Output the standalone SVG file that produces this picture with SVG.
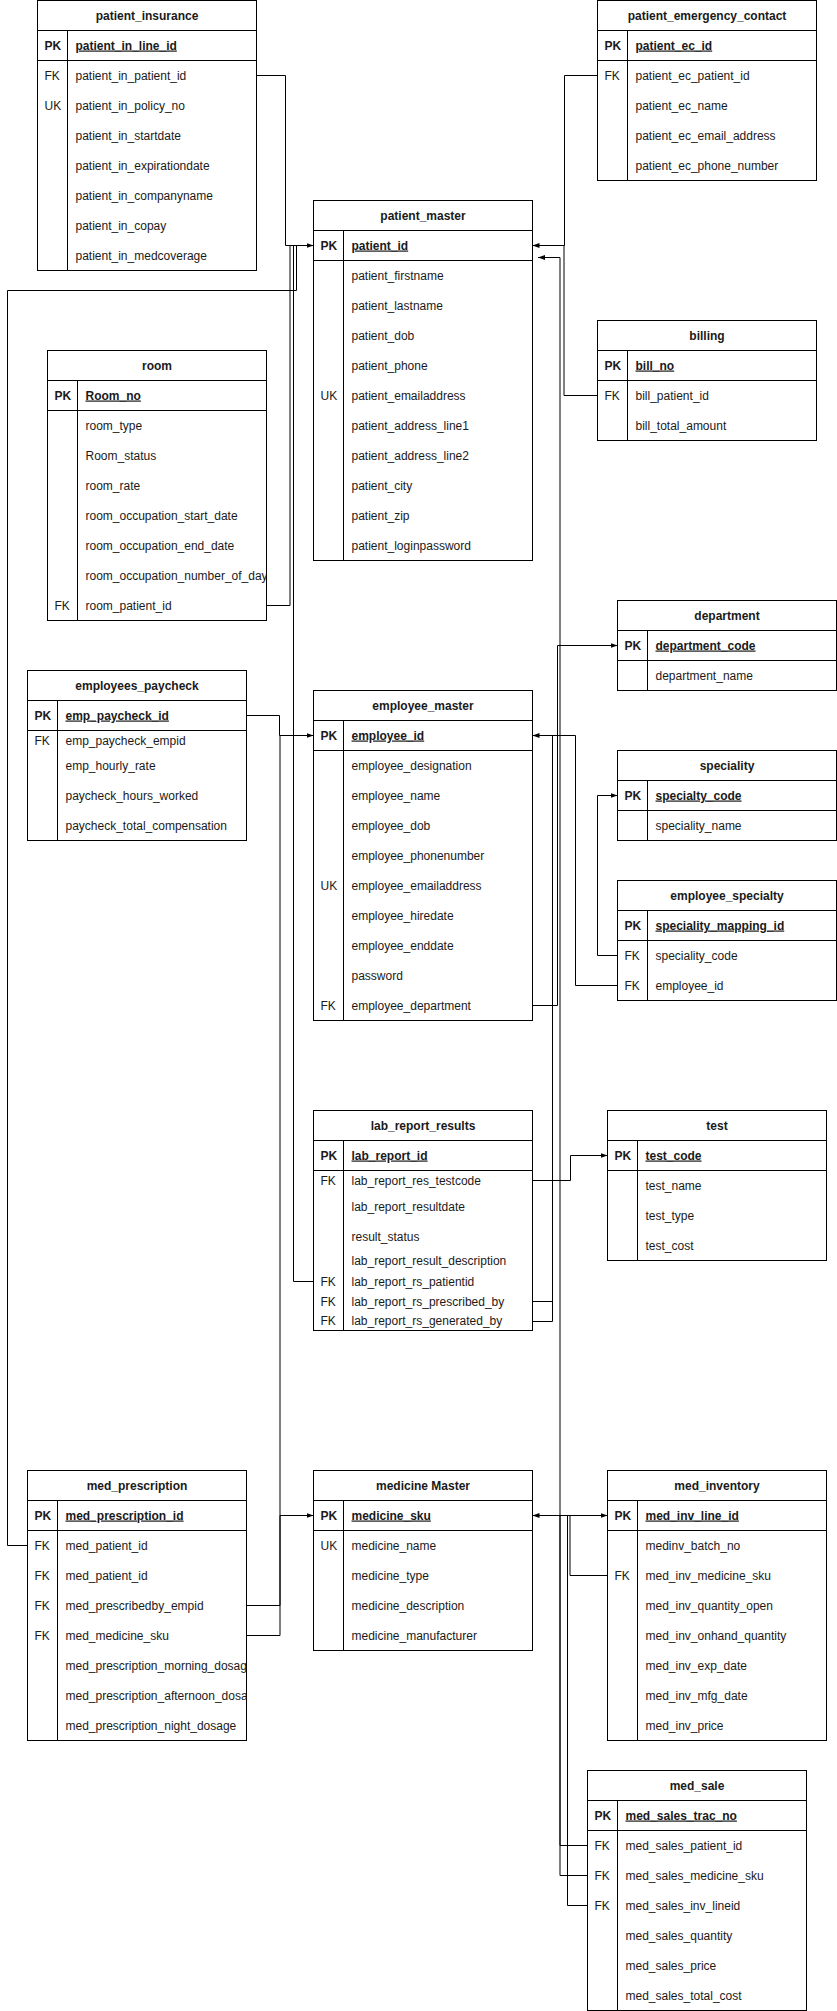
<svg xmlns="http://www.w3.org/2000/svg" width="837" height="2011" viewBox="0 0 837 2011">
<style>
.box{fill:#fff;stroke:#000;stroke-width:1}
.ln{fill:none;stroke:#000;stroke-width:1}
.t{font-family:"Liberation Sans",Arial,Helvetica,sans-serif;font-size:12px;fill:#1a1a1a}
.h{font-weight:bold;text-anchor:middle}
.b{font-weight:bold}
.pk{font-weight:bold;text-decoration:underline}
.c{fill:none;stroke:#000;stroke-width:1}
.g{fill:none;stroke:#000;stroke-width:1}
</style>
<defs>
<marker id="arr" markerUnits="userSpaceOnUse" markerWidth="8" markerHeight="6" refX="7" refY="2.5" orient="auto">
<path d="M0,0L7,2.5L0,5z" fill="#000"/>
</marker>
<clipPath id="clipRx"><rect x="47.5" y="350" width="219" height="271"/></clipPath>
<clipPath id="clipMp"><rect x="27.5" y="1470" width="219" height="271"/></clipPath>
</defs>
<rect width="837" height="2011" fill="#fff"/>

<g id="connectors">
<path class="c" d="M256.5,75.5H285.5V245.5H313.5" marker-end="url(#arr)"/>
<path class="g" d="M266.5,605.5H290V245.5H313.5"/>
<path class="c" d="M27.5,1545.5H7.5V290.5H296.5V245.5H313.5"/>
<path class="c" d="M313.5,1281.5H293.5V245.5H313.5"/>
<path class="c" d="M597.5,75.5H564.5V245.5H532.5" marker-end="url(#arr)"/>
<path class="g" d="M597.5,395.5H564V245.5H540"/>
<path class="g" d="M587.5,1845.5H560V257.5H538" marker-end="url(#arr)"/>
<path class="c" d="M246.5,715.5H279.5V735.5H313.5" marker-end="url(#arr)"/>
<path class="g" d="M246.5,1605.5H280V735.5H300"/>
<path class="g" d="M246.5,1635.5H280V1515.5H313.5" marker-end="url(#arr)"/>
<path class="c" d="M617.5,985.5H575.5V735.5H532.5" marker-end="url(#arr)"/>
<path class="c" d="M532.5,1301.5H552.5V735.5H540"/>
<path class="c" d="M532.5,1321.5H552.5V1300"/>
<path class="c" d="M532.5,1005.5H557.5V645.5H617.5" marker-end="url(#arr)"/>
<path class="c" d="M617.5,955.5H597.5V795.5H617.5" marker-end="url(#arr)"/>
<path class="c" d="M532.5,1180.5H570.5V1155.5H607.5" marker-end="url(#arr)"/>
<path class="g" d="M607.5,1575.5H570V1515.5H532.5" marker-end="url(#arr)"/>
<path class="c" d="M587.5,1905.5H567.5V1515.5H607.5" marker-end="url(#arr)"/>
<path class="g" d="M587.5,1875.5H560V1515.5H545"/>
</g>

<g id="patient_insurance">
<rect class="box" x="37.5" y="0.5" width="219" height="270"/>
<path class="ln" d="M37.5,30.5H256.5M37.5,60.5H256.5M67.5,30.5V270.5"/>
<text class="t h" x="147" y="19.5">patient_insurance</text>
<text class="t b" x="44.5" y="49.5">PK</text>
<text class="t pk" x="75.5" y="49.5">patient_in_line_id</text>
<text class="t" x="44.5" y="79.5">FK</text>
<text class="t" x="75.5" y="79.5">patient_in_patient_id</text>
<text class="t" x="44.5" y="109.5">UK</text>
<text class="t" x="75.5" y="109.5">patient_in_policy_no</text>
<text class="t" x="75.5" y="139.5">patient_in_startdate</text>
<text class="t" x="75.5" y="169.5">patient_in_expirationdate</text>
<text class="t" x="75.5" y="199.5">patient_in_companyname</text>
<text class="t" x="75.5" y="229.5">patient_in_copay</text>
<text class="t" x="75.5" y="259.5">patient_in_medcoverage</text>
</g>

<g id="patient_emergency_contact">
<rect class="box" x="597.5" y="0.5" width="219" height="180"/>
<path class="ln" d="M597.5,30.5H816.5M597.5,60.5H816.5M627.5,30.5V180.5"/>
<text class="t h" x="707" y="19.5">patient_emergency_contact</text>
<text class="t b" x="604.5" y="49.5">PK</text>
<text class="t pk" x="635.5" y="49.5">patient_ec_id</text>
<text class="t" x="604.5" y="79.5">FK</text>
<text class="t" x="635.5" y="79.5">patient_ec_patient_id</text>
<text class="t" x="635.5" y="109.5">patient_ec_name</text>
<text class="t" x="635.5" y="139.5">patient_ec_email_address</text>
<text class="t" x="635.5" y="169.5">patient_ec_phone_number</text>
</g>

<g id="patient_master">
<rect class="box" x="313.5" y="200.5" width="219" height="360"/>
<path class="ln" d="M313.5,230.5H532.5M313.5,260.5H532.5M343.5,230.5V560.5"/>
<text class="t h" x="423" y="219.5">patient_master</text>
<text class="t b" x="320.5" y="249.5">PK</text>
<text class="t pk" x="351.5" y="249.5">patient_id</text>
<text class="t" x="351.5" y="279.5">patient_firstname</text>
<text class="t" x="351.5" y="309.5">patient_lastname</text>
<text class="t" x="351.5" y="339.5">patient_dob</text>
<text class="t" x="351.5" y="369.5">patient_phone</text>
<text class="t" x="320.5" y="399.5">UK</text>
<text class="t" x="351.5" y="399.5">patient_emailaddress</text>
<text class="t" x="351.5" y="429.5">patient_address_line1</text>
<text class="t" x="351.5" y="459.5">patient_address_line2</text>
<text class="t" x="351.5" y="489.5">patient_city</text>
<text class="t" x="351.5" y="519.5">patient_zip</text>
<text class="t" x="351.5" y="549.5">patient_loginpassword</text>
</g>

<g id="billing">
<rect class="box" x="597.5" y="320.5" width="219" height="120"/>
<path class="ln" d="M597.5,350.5H816.5M597.5,380.5H816.5M627.5,350.5V440.5"/>
<text class="t h" x="707" y="339.5">billing</text>
<text class="t b" x="604.5" y="369.5">PK</text>
<text class="t pk" x="635.5" y="369.5">bill_no</text>
<text class="t" x="604.5" y="399.5">FK</text>
<text class="t" x="635.5" y="399.5">bill_patient_id</text>
<text class="t" x="635.5" y="429.5">bill_total_amount</text>
</g>

<g id="room">
<rect class="box" x="47.5" y="350.5" width="219" height="270"/>
<path class="ln" d="M47.5,380.5H266.5M47.5,410.5H266.5M77.5,380.5V620.5"/>
<text class="t h" x="157" y="369.5">room</text>
<text class="t b" x="54.5" y="399.5">PK</text>
<text class="t pk" x="85.5" y="399.5">Room_no</text>
<text class="t" x="85.5" y="429.5">room_type</text>
<text class="t" x="85.5" y="459.5">Room_status</text>
<text class="t" x="85.5" y="489.5">room_rate</text>
<text class="t" x="85.5" y="519.5">room_occupation_start_date</text>
<text class="t" x="85.5" y="549.5">room_occupation_end_date</text>
<text class="t" x="85.5" y="579.5" clip-path="url(#clipRx)">room_occupation_number_of_day</text>
<text class="t" x="54.5" y="609.5">FK</text>
<text class="t" x="85.5" y="609.5">room_patient_id</text>
</g>

<g id="employees_paycheck">
<rect class="box" x="27.5" y="670.5" width="219" height="170"/>
<path class="ln" d="M27.5,700.5H246.5M27.5,730.5H246.5M57.5,700.5V840.5"/>
<text class="t h" x="137" y="689.5">employees_paycheck</text>
<text class="t b" x="34.5" y="719.5">PK</text>
<text class="t pk" x="65.5" y="719.5">emp_paycheck_id</text>
<text class="t" x="34.5" y="744.5">FK</text>
<text class="t" x="65.5" y="744.5">emp_paycheck_empid</text>
<text class="t" x="65.5" y="769.5">emp_hourly_rate</text>
<text class="t" x="65.5" y="799.5">paycheck_hours_worked</text>
<text class="t" x="65.5" y="829.5">paycheck_total_compensation</text>
</g>

<g id="employee_master">
<rect class="box" x="313.5" y="690.5" width="219" height="330"/>
<path class="ln" d="M313.5,720.5H532.5M313.5,750.5H532.5M343.5,720.5V1020.5"/>
<text class="t h" x="423" y="709.5">employee_master</text>
<text class="t b" x="320.5" y="739.5">PK</text>
<text class="t pk" x="351.5" y="739.5">employee_id</text>
<text class="t" x="351.5" y="769.5">employee_designation</text>
<text class="t" x="351.5" y="799.5">employee_name</text>
<text class="t" x="351.5" y="829.5">employee_dob</text>
<text class="t" x="351.5" y="859.5">employee_phonenumber</text>
<text class="t" x="320.5" y="889.5">UK</text>
<text class="t" x="351.5" y="889.5">employee_emailaddress</text>
<text class="t" x="351.5" y="919.5">employee_hiredate</text>
<text class="t" x="351.5" y="949.5">employee_enddate</text>
<text class="t" x="351.5" y="979.5">password</text>
<text class="t" x="320.5" y="1009.5">FK</text>
<text class="t" x="351.5" y="1009.5">employee_department</text>
</g>

<g id="department">
<rect class="box" x="617.5" y="600.5" width="219" height="90"/>
<path class="ln" d="M617.5,630.5H836.5M617.5,660.5H836.5M647.5,630.5V690.5"/>
<text class="t h" x="727" y="619.5">department</text>
<text class="t b" x="624.5" y="649.5">PK</text>
<text class="t pk" x="655.5" y="649.5">department_code</text>
<text class="t" x="655.5" y="679.5">department_name</text>
</g>

<g id="speciality">
<rect class="box" x="617.5" y="750.5" width="219" height="90"/>
<path class="ln" d="M617.5,780.5H836.5M617.5,810.5H836.5M647.5,780.5V840.5"/>
<text class="t h" x="727" y="769.5">speciality</text>
<text class="t b" x="624.5" y="799.5">PK</text>
<text class="t pk" x="655.5" y="799.5">specialty_code</text>
<text class="t" x="655.5" y="829.5">speciality_name</text>
</g>

<g id="employee_specialty">
<rect class="box" x="617.5" y="880.5" width="219" height="120"/>
<path class="ln" d="M617.5,910.5H836.5M617.5,940.5H836.5M647.5,910.5V1000.5"/>
<text class="t h" x="727" y="899.5">employee_specialty</text>
<text class="t b" x="624.5" y="929.5">PK</text>
<text class="t pk" x="655.5" y="929.5">speciality_mapping_id</text>
<text class="t" x="624.5" y="959.5">FK</text>
<text class="t" x="655.5" y="959.5">speciality_code</text>
<text class="t" x="624.5" y="989.5">FK</text>
<text class="t" x="655.5" y="989.5">employee_id</text>
</g>

<g id="lab_report_results">
<rect class="box" x="313.5" y="1110.5" width="219" height="220"/>
<path class="ln" d="M313.5,1140.5H532.5M313.5,1170.5H532.5M343.5,1140.5V1330.5"/>
<text class="t h" x="423" y="1129.5">lab_report_results</text>
<text class="t b" x="320.5" y="1159.5">PK</text>
<text class="t pk" x="351.5" y="1159.5">lab_report_id</text>
<text class="t" x="320.5" y="1184.5">FK</text>
<text class="t" x="351.5" y="1184.5">lab_report_res_testcode</text>
<text class="t" x="351.5" y="1210.5">lab_report_resultdate</text>
<text class="t" x="351.5" y="1240.5">result_status</text>
<text class="t" x="351.5" y="1265">lab_report_result_description</text>
<text class="t" x="320.5" y="1285.5">FK</text>
<text class="t" x="351.5" y="1285.5">lab_report_rs_patientid</text>
<text class="t" x="320.5" y="1305.5">FK</text>
<text class="t" x="351.5" y="1305.5">lab_report_rs_prescribed_by</text>
<text class="t" x="320.5" y="1325">FK</text>
<text class="t" x="351.5" y="1325">lab_report_rs_generated_by</text>
</g>

<g id="test">
<rect class="box" x="607.5" y="1110.5" width="219" height="150"/>
<path class="ln" d="M607.5,1140.5H826.5M607.5,1170.5H826.5M637.5,1140.5V1260.5"/>
<text class="t h" x="717" y="1129.5">test</text>
<text class="t b" x="614.5" y="1159.5">PK</text>
<text class="t pk" x="645.5" y="1159.5">test_code</text>
<text class="t" x="645.5" y="1189.5">test_name</text>
<text class="t" x="645.5" y="1219.5">test_type</text>
<text class="t" x="645.5" y="1249.5">test_cost</text>
</g>

<g id="med_prescription">
<rect class="box" x="27.5" y="1470.5" width="219" height="270"/>
<path class="ln" d="M27.5,1500.5H246.5M27.5,1530.5H246.5M57.5,1500.5V1740.5"/>
<text class="t h" x="137" y="1489.5">med_prescription</text>
<text class="t b" x="34.5" y="1519.5">PK</text>
<text class="t pk" x="65.5" y="1519.5">med_prescription_id</text>
<text class="t" x="34.5" y="1549.5">FK</text>
<text class="t" x="65.5" y="1549.5">med_patient_id</text>
<text class="t" x="34.5" y="1579.5">FK</text>
<text class="t" x="65.5" y="1579.5">med_patient_id</text>
<text class="t" x="34.5" y="1609.5">FK</text>
<text class="t" x="65.5" y="1609.5">med_prescribedby_empid</text>
<text class="t" x="34.5" y="1639.5">FK</text>
<text class="t" x="65.5" y="1639.5">med_medicine_sku</text>
<text class="t" x="65.5" y="1669.5" clip-path="url(#clipMp)">med_prescription_morning_dosag</text>
<text class="t" x="65.5" y="1699.5" clip-path="url(#clipMp)">med_prescription_afternoon_dosa</text>
<text class="t" x="65.5" y="1729.5">med_prescription_night_dosage</text>
</g>

<g id="medicine_master">
<rect class="box" x="313.5" y="1470.5" width="219" height="180"/>
<path class="ln" d="M313.5,1500.5H532.5M313.5,1530.5H532.5M343.5,1500.5V1650.5"/>
<text class="t h" x="423" y="1489.5">medicine Master</text>
<text class="t b" x="320.5" y="1519.5">PK</text>
<text class="t pk" x="351.5" y="1519.5">medicine_sku</text>
<text class="t" x="320.5" y="1549.5">UK</text>
<text class="t" x="351.5" y="1549.5">medicine_name</text>
<text class="t" x="351.5" y="1579.5">medicine_type</text>
<text class="t" x="351.5" y="1609.5">medicine_description</text>
<text class="t" x="351.5" y="1639.5">medicine_manufacturer</text>
</g>

<g id="med_inventory">
<rect class="box" x="607.5" y="1470.5" width="219" height="270"/>
<path class="ln" d="M607.5,1500.5H826.5M607.5,1530.5H826.5M637.5,1500.5V1740.5"/>
<text class="t h" x="717" y="1489.5">med_inventory</text>
<text class="t b" x="614.5" y="1519.5">PK</text>
<text class="t pk" x="645.5" y="1519.5">med_inv_line_id</text>
<text class="t" x="645.5" y="1549.5">medinv_batch_no</text>
<text class="t" x="614.5" y="1579.5">FK</text>
<text class="t" x="645.5" y="1579.5">med_inv_medicine_sku</text>
<text class="t" x="645.5" y="1609.5">med_inv_quantity_open</text>
<text class="t" x="645.5" y="1639.5">med_inv_onhand_quantity</text>
<text class="t" x="645.5" y="1669.5">med_inv_exp_date</text>
<text class="t" x="645.5" y="1699.5">med_inv_mfg_date</text>
<text class="t" x="645.5" y="1729.5">med_inv_price</text>
</g>

<g id="med_sale">
<rect class="box" x="587.5" y="1770.5" width="219" height="240"/>
<path class="ln" d="M587.5,1800.5H806.5M587.5,1830.5H806.5M617.5,1800.5V2010.5"/>
<text class="t h" x="697" y="1789.5">med_sale</text>
<text class="t b" x="594.5" y="1819.5">PK</text>
<text class="t pk" x="625.5" y="1819.5">med_sales_trac_no</text>
<text class="t" x="594.5" y="1849.5">FK</text>
<text class="t" x="625.5" y="1849.5">med_sales_patient_id</text>
<text class="t" x="594.5" y="1879.5">FK</text>
<text class="t" x="625.5" y="1879.5">med_sales_medicine_sku</text>
<text class="t" x="594.5" y="1909.5">FK</text>
<text class="t" x="625.5" y="1909.5">med_sales_inv_lineid</text>
<text class="t" x="625.5" y="1939.5">med_sales_quantity</text>
<text class="t" x="625.5" y="1969.5">med_sales_price</text>
<text class="t" x="625.5" y="1999.5">med_sales_total_cost</text>
</g>
</svg>
